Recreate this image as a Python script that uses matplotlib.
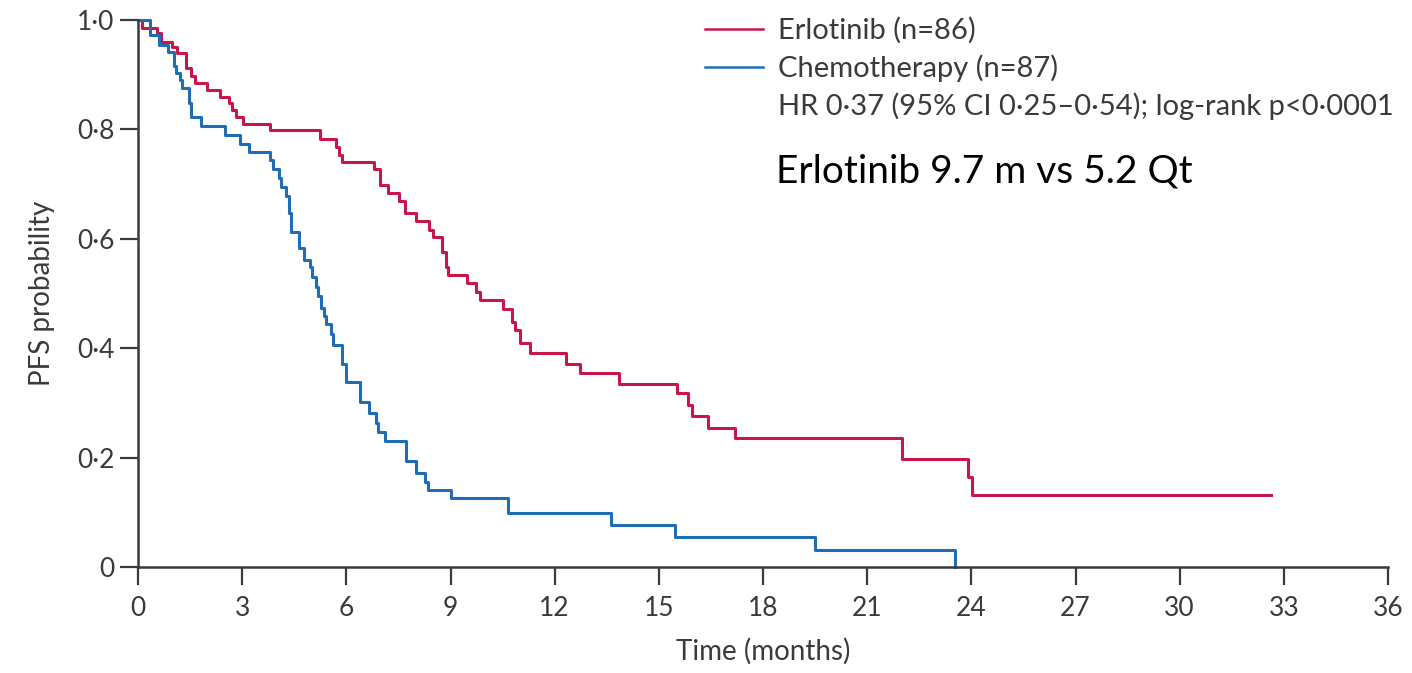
import matplotlib
matplotlib.use("Agg")
import matplotlib.pyplot as plt
from matplotlib.lines import Line2D
from matplotlib.ticker import FixedLocator, FuncFormatter

# Kaplan-Meier steps
erl_time = [0, 0.12, 0.56, 0.67, 0.99, 1.13, 1.39, 1.52, 1.65, 1.99,
            2.37, 2.62, 2.71, 2.83, 3.02, 3.80, 5.24, 5.69, 5.78, 5.87,
            6.80, 6.98, 7.20, 7.51, 7.70, 8.02, 8.37, 8.49, 8.75, 8.88,
            8.94, 9.48, 9.74, 9.86, 10.51, 10.76, 10.85, 11.01, 11.28, 12.32,
            12.72, 13.84, 15.51, 15.83, 15.96, 16.43, 17.2, 22.01, 23.9, 24.03,
            32.64]
erl_surv = [1.0, 0.985, 0.976, 0.959, 0.951, 0.939, 0.913, 0.898, 0.885, 0.872,
            0.860, 0.848, 0.835, 0.822, 0.810, 0.798, 0.782, 0.768, 0.753, 0.740,
            0.727, 0.698, 0.683, 0.669, 0.648, 0.632, 0.616, 0.604, 0.575, 0.549,
            0.534, 0.520, 0.503, 0.488, 0.471, 0.448, 0.433, 0.409, 0.392, 0.371,
            0.355, 0.335, 0.318, 0.296, 0.276, 0.255, 0.235, 0.198, 0.165, 0.132,
            0.132]

chemo_time = [0, 0.35, 0.60, 0.86, 1.03, 1.10, 1.20, 1.28, 1.47, 1.52,
              1.82, 2.51, 2.93, 3.19, 3.81, 3.89, 4.06, 4.13, 4.25, 4.34,
              4.41, 4.63, 4.77, 4.94, 5.02, 5.12, 5.18, 5.28, 5.35, 5.40,
              5.57, 5.61, 5.88, 6.00, 6.40, 6.65, 6.84, 6.92, 7.11, 7.71,
              8.01, 8.28, 8.35, 9.02, 10.65, 13.61, 15.46, 19.49, 23.52]
chemo_surv = [1.0, 0.973, 0.955, 0.942, 0.915, 0.903, 0.890, 0.875, 0.848, 0.822,
              0.807, 0.790, 0.773, 0.759, 0.744, 0.727, 0.711, 0.694, 0.678, 0.647,
              0.613, 0.583, 0.561, 0.549, 0.531, 0.512, 0.495, 0.473, 0.459, 0.445,
              0.426, 0.405, 0.372, 0.339, 0.302, 0.281, 0.264, 0.247, 0.230, 0.193,
              0.172, 0.156, 0.141, 0.126, 0.098, 0.077, 0.055, 0.031, 0.0]

x_ticks = list(range(0, 37, 3))
y_ticks = [0, 0.2, 0.4, 0.6, 0.8, 1.0]

labels = ["Erlotinib (n=86)", "Chemotherapy (n=87)"]
stats_text = "HR 0\u00b737 (95% CI 0\u00b725\u20130\u00b754); log-rank p<0\u00b70001"
note_text = "Erlotinib 9.7 m vs 5.2 Qt"

red = "#c8164a"
blue = "#1f6db5"
ink = "#3a3a3a"
font = ["Lato", "DejaVu Sans"]

fig = plt.figure(figsize=(14.12, 6.73), dpi=100)
ax = fig.add_axes([138 / 1412, 1 - 567 / 673, 1250 / 1412, 547 / 673])

ax.step(erl_time, erl_surv, where="post", color=red, lw=2.2, clip_on=False)
ax.step(chemo_time, chemo_surv, where="post", color=blue, lw=2.2, clip_on=False)

ax.set_xlim(0, 36)
ax.set_ylim(0, 1.0)
ax.xaxis.set_major_locator(FixedLocator(x_ticks))
ax.yaxis.set_major_locator(FixedLocator(y_ticks))
ax.yaxis.set_major_formatter(FuncFormatter(
    lambda v, p: "0" if v == 0 else f"{v:.1f}".replace(".", "\u00b7")))

for s in ["top", "right"]:
    ax.spines[s].set_visible(False)
for s in ["left", "bottom"]:
    ax.spines[s].set_color(ink)
    ax.spines[s].set_linewidth(1.8)
ax.tick_params(length=13, width=1.6, color=ink, labelcolor=ink,
               labelsize=19)
ax.tick_params(axis="x", pad=8)
ax.tick_params(axis="y", pad=4)
for lab in ax.get_xticklabels() + ax.get_yticklabels():
    lab.set_family(font)

ax.set_xlabel("Time (months)", family=font, fontsize=20, color=ink, labelpad=12)
ax.set_ylabel("PFS probability", family=font, fontsize=20, color=ink, labelpad=16)

handles = [Line2D([], [], color=red, lw=1.8),
           Line2D([], [], color=blue, lw=1.8),
           Line2D([], [], color="none")]
leg = ax.legend(handles, labels + [stats_text], loc="upper left",
                bbox_to_anchor=(705 / 1412, 1 - 17 / 673),
                bbox_transform=fig.transFigure, frameon=False,
                handlelength=2.0, handletextpad=0.5, labelspacing=0.36,
                borderpad=0, borderaxespad=0, prop={"family": font, "size": 21})
for t in leg.get_texts():
    t.set_color(ink)

fig.text(776 / 1412, 1 - 172 / 673, note_text, family=font, fontsize=28,
         color="black", va="center", ha="left")

fig.savefig("out.png", dpi=100)
